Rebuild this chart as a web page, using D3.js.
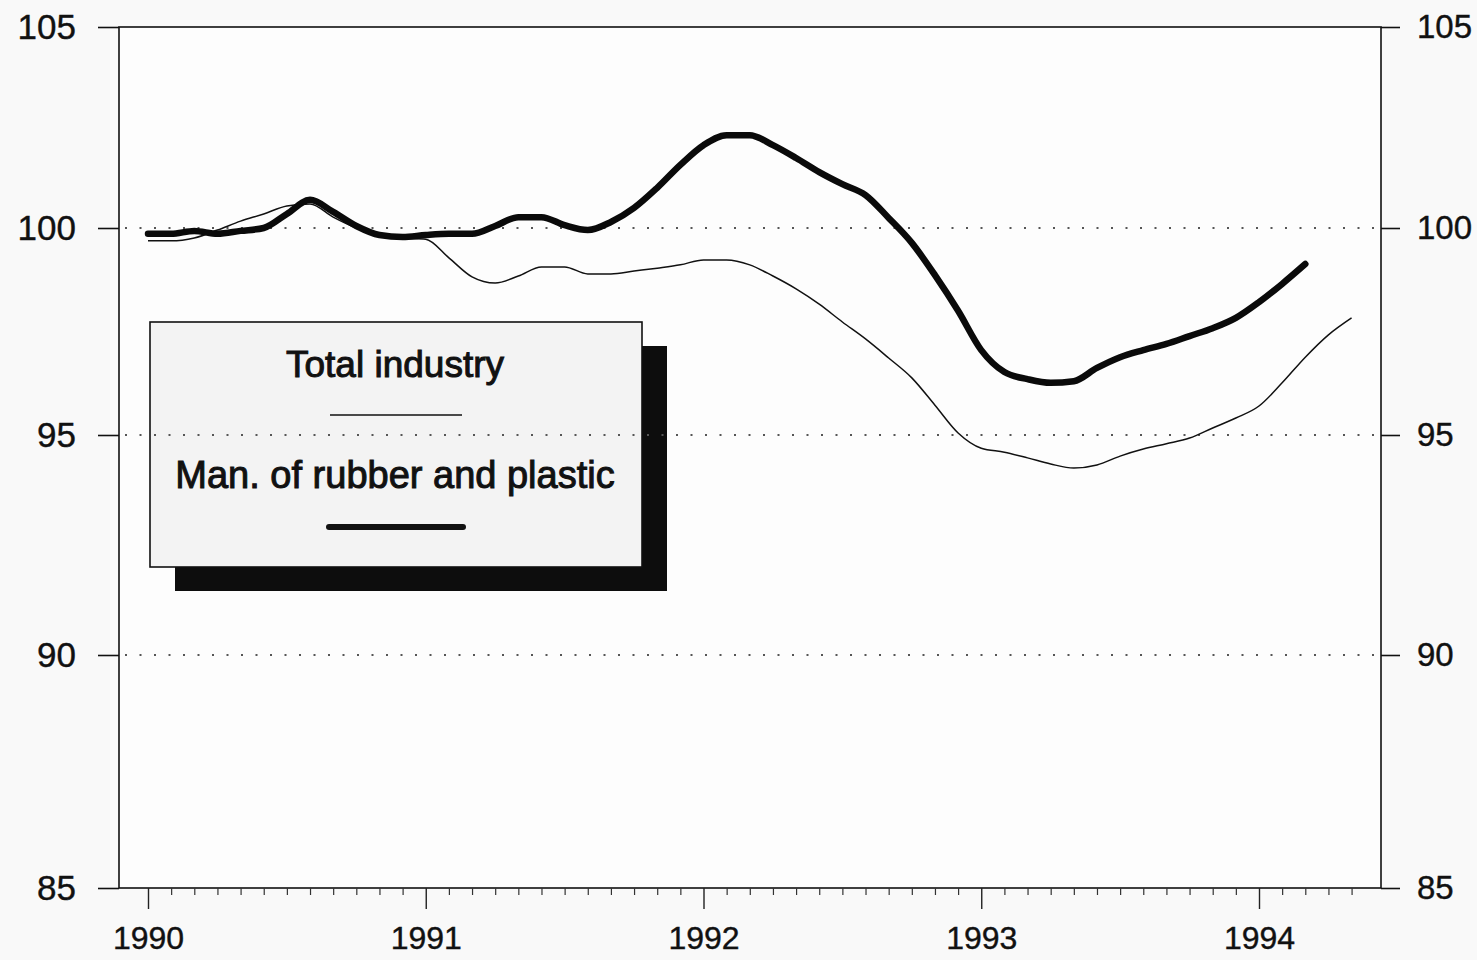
<!DOCTYPE html>
<html>
<head>
<meta charset="utf-8">
<script src="https://cdn.jsdelivr.net/npm/d3@7"></script>
<style>
  html, body { margin: 0; padding: 0; background: #f9f9f9; }
  svg { display: block; }
  text { font-family: "Liberation Sans", Arial, sans-serif; fill: #111; }
</style>
</head>
<body>
<svg id="chart" width="1477" height="960"></svg>
<script>
// ---- data ----
const startYear = 1990;               // first month = January 1990, monthly data
const yearTicks = [1990, 1991, 1992, 1993, 1994];
const yTicks = [85, 90, 95, 100, 105];
const gridValues = [90, 95, 100];
const seriesNames = ["Total industry", "Man. of rubber and plastic"];

const totalIndustry = [
  99.69, 99.69, 99.76, 99.95, 100.17, 100.35, 100.55, 100.60, 100.27, 100.00, 99.83, 99.76,
  99.73, 99.28, 98.82, 98.67, 98.84, 99.06, 99.06, 98.89, 98.89, 98.96, 99.03, 99.11,
  99.23, 99.23, 99.11, 98.84, 98.53, 98.16, 97.73, 97.32, 96.86, 96.38, 95.72, 95.05,
  94.70, 94.61, 94.48, 94.34, 94.25, 94.32, 94.52, 94.68, 94.80, 94.93, 95.17, 95.41,
  95.70, 96.26, 96.88, 97.42, 97.83
];
const rubberPlastic = [
  99.86, 99.86, 99.93, 99.86, 99.93, 100.00, 100.35, 100.70, 100.40, 100.05, 99.83, 99.78,
  99.83, 99.86, 99.86, 100.05, 100.27, 100.27, 100.07, 99.95, 100.15, 100.50, 101.00, 101.57,
  102.06, 102.31, 102.31, 102.06, 101.74, 101.39, 101.09, 100.82, 100.25, 99.64, 98.86, 98.00,
  97.05, 96.52, 96.35, 96.26, 96.30, 96.62, 96.88, 97.05, 97.20, 97.39, 97.58, 97.83,
  98.21, 98.65, 99.13
];

// ---- layout ----
const svg = d3.select("#chart");
const frame = { left: 119, right: 1381, top: 27, bottom: 888 };

const x = d3.scaleLinear().domain([1990, 1994]).range([148, 1259]);
// scanned original has slightly uneven spacing between the 5-point steps
const y = d3.scaleLinear().domain([85, 90, 95, 100, 105]).range([888, 655, 435, 228, 27]);

const toPoints = arr => arr.map((v, i) => ({ t: startYear + i / 12, v }));

// frame
svg.append("rect")
  .attr("x", frame.left).attr("y", frame.top)
  .attr("width", frame.right - frame.left).attr("height", frame.bottom - frame.top)
  .attr("fill", "#fdfdfd").attr("stroke", "#111").attr("stroke-width", 1.6);

// left axis
const yLeft = svg.append("g").attr("transform", `translate(${frame.left},0)`)
  .call(d3.axisLeft(y).tickValues(yTicks).tickSize(21).tickPadding(22).tickFormat(d3.format("d")));
// right axis
const yRight = svg.append("g").attr("transform", `translate(${frame.right},0)`)
  .call(d3.axisRight(y).tickValues(yTicks).tickSize(19).tickPadding(17).tickFormat(d3.format("d")));
[yLeft, yRight].forEach(g => {
  g.select(".domain").remove();
  g.selectAll(".tick line").attr("stroke", "#111").attr("stroke-width", 1.6);
  g.selectAll(".tick text").style("font-size", "35px").attr("fill", "#111")
    .attr("stroke", "#111").attr("stroke-width", 0.4);
});
yRight.selectAll(".tick text").style("font-size", "33px");

// bottom axis: monthly minor ticks, yearly major ticks
const monthTicks = d3.range(0, 53).map(i => startYear + i / 12).filter(t => Math.abs(t - Math.round(t)) > 1e-6);
const xMinor = svg.append("g").attr("transform", `translate(0,${frame.bottom})`)
  .call(d3.axisBottom(x).tickValues(monthTicks).tickSize(7).tickFormat(""));
xMinor.select(".domain").remove();
xMinor.selectAll(".tick line").attr("stroke", "#333").attr("stroke-width", 1.2);

const xMajor = svg.append("g").attr("transform", `translate(0,${frame.bottom})`)
  .call(d3.axisBottom(x).tickValues(yearTicks).tickSize(21).tickPadding(0).tickFormat(d3.format("d")));
xMajor.select(".domain").remove();
xMajor.selectAll(".tick line").attr("stroke", "#222").attr("stroke-width", 1.4);
xMajor.selectAll(".tick text").style("font-size", "32px").attr("fill", "#111")
  .attr("stroke", "#111").attr("stroke-width", 0.4)
  .attr("dy", null).attr("y", 61);

// legend (shadow + box)
const lg = { x: 150, y: 322, w: 492, h: 245, off: 25 };
svg.append("rect")
  .attr("x", lg.x + lg.off).attr("y", lg.y + lg.off - 1).attr("width", lg.w).attr("height", lg.h)
  .attr("fill", "#0d0d0d");
svg.append("rect")
  .attr("x", lg.x).attr("y", lg.y).attr("width", lg.w).attr("height", lg.h)
  .attr("fill", "#f3f3f3").attr("stroke", "#111").attr("stroke-width", 1.6);

const cx = lg.x + lg.w / 2 - 1;
svg.append("text").attr("x", cx).attr("y", 377).attr("text-anchor", "middle")
  .style("font-size", "37px").attr("stroke", "#111").attr("stroke-width", 1)
  .text(seriesNames[0]);
svg.append("line").attr("x1", 330).attr("x2", 462).attr("y1", 415).attr("y2", 415)
  .attr("stroke", "#111").attr("stroke-width", 1.6);
svg.append("text").attr("x", cx).attr("y", 488).attr("text-anchor", "middle")
  .style("font-size", "38px").attr("stroke", "#111").attr("stroke-width", 1)
  .text(seriesNames[1]);
svg.append("line").attr("x1", 329).attr("x2", 463).attr("y1", 527).attr("y2", 527)
  .attr("stroke", "#111").attr("stroke-width", 6).attr("stroke-linecap", "round");

// dotted grid lines
svg.append("g").selectAll("line").data(gridValues).join("line")
  .attr("x1", frame.left + 6).attr("x2", frame.right - 3)
  .attr("y1", d => y(d)).attr("y2", d => y(d))
  .attr("stroke", "#555").attr("stroke-width", 2.2)
  .attr("stroke-dasharray", "2,12.5");

// series lines
const line = d3.line().x(d => x(d.t)).y(d => y(d.v)).curve(d3.curveMonotoneX);
svg.append("path").datum(toPoints(totalIndustry))
  .attr("d", line).attr("fill", "none").attr("stroke", "#111")
  .attr("stroke-width", 1.5).attr("stroke-linejoin", "round");
svg.append("path").datum(toPoints(rubberPlastic))
  .attr("d", line).attr("fill", "none").attr("stroke", "#0a0a0a")
  .attr("stroke-width", 6.5).attr("stroke-linejoin", "round").attr("stroke-linecap", "round");
</script>
</body>
</html>
